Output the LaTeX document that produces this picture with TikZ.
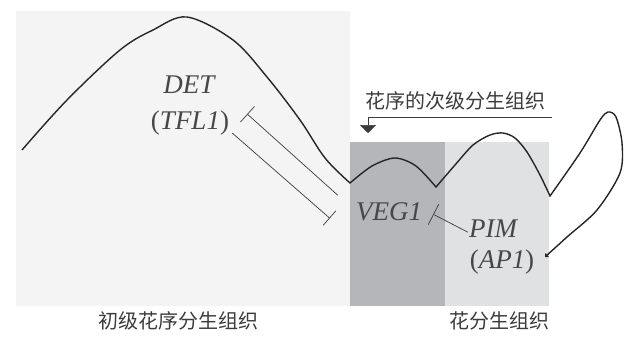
\documentclass[tikz,border=0pt]{standalone}
\usepackage{fontspec}
\setmainfont{Liberation Serif}
\newfontfamily\cjk{Noto Sans CJK SC}
\usetikzlibrary{arrows.meta}
\definecolor{pribg}{HTML}{F4F4F4}
\definecolor{secbg}{HTML}{B5B6B9}
\definecolor{flobg}{HTML}{E0E1E3}
\definecolor{ink}{HTML}{262626}

\begin{document}
\begin{tikzpicture}[x=1pt,y=-1pt,
    gene/.style={font=\fontsize{27}{30}\selectfont\itshape, text=ink!85, inner sep=0pt, anchor=base},
    zone/.style={font=\cjk\fontsize{20}{24}\selectfont, text=ink!90, inner sep=0pt},
    meristem/.style={line width=1.4pt, draw=ink, line join=miter},
    inhib/.style={line width=0.7pt, draw=ink!90, -{Bar[width=#1]}},
    inhib/.default=20pt,
    lead/.style={line width=0.7pt, draw=ink!90, -{Triangle[width=16pt,length=8pt]}}]
	\useasboundingbox (0,0) rectangle (629,337);

	% Zones
	\fill[pribg] (16,11) rectangle (350,306);
	\fill[secbg] (350,142) rectangle (445,306);
	\fill[flobg] (445,142) rectangle (549,306);

	% Shoot outline, ending on the flower
	\draw[meristem, -{Straight Barb[length=2pt,width=4pt]}]
		plot[smooth, tension=0.55] coordinates {(22,150) (67,100) (120,50) (153,30) (187,17) (233,40) (267,77) (300,120) (325,158) (350,183)}
		-- plot[smooth] coordinates {(350,183) (372,166) (395,158) (416,166) (436,187)}
		-- plot[smooth] coordinates {(436,187) (455,165) (473,145) (490,135) (503,133) (515,138) (527,152) (540,175) (550,196)}
		-- plot[smooth] coordinates {(550,196) (580,153) (600,120) (608,112) (616,117) (622,143) (620,173) (597,210) (567,237) (545,257)};

	% Genes
	\node[gene] (det) at (189,93) {DET};
	\node[gene] (tfl) at (190,129) {{\upshape(}TFL1{\upshape)}};
	\node[gene] (veg) at (389,220) {VEG1};
	\node[gene] (pim) at (493,237) {PIM};
	\node[gene] (ap) at (502,268) {{\upshape(}AP1{\upshape)}};

	% Repression
	\draw[inhib=21pt] ([shift={(-18,-16)}]veg.west) -- ([shift={(18,-8.5)}]tfl.east);
	\draw[inhib=19pt] ([shift={(3,10.5)}]tfl.east) -- ([shift={(-26,7)}]veg.west);
	\draw[inhib=23pt] ([shift={(-1,4)}]pim.west) -- ([shift={(11,3)}]veg.east);

	% Zone labels
	\node[zone] (sec) at (455,101) {花序的次级分生组织};
	\coordinate (tail) at (552,117);
	\coordinate (tip) at (368,133);
	\draw[lead] (tail) -| (tip);
	\node[zone] (pri) at (178,321) {初级花序分生组织};
	\node[zone] (flo) at (499,321) {花分生组织};
\end{tikzpicture}
\end{document}
